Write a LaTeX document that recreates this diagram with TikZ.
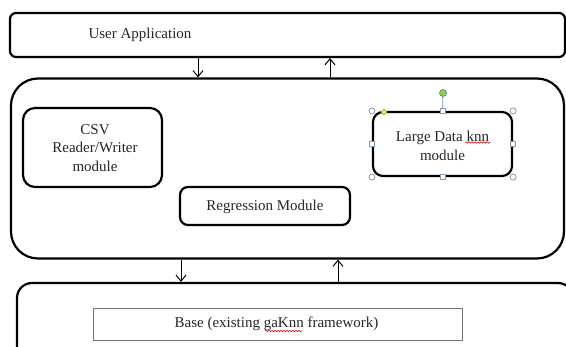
\documentclass[tikz,border=0pt]{standalone}
\usepackage{fontspec}
\setmainfont{Liberation Serif}
\usetikzlibrary{arrows.meta,decorations.pathmorphing,calc}
\definecolor{handle}{HTML}{7F9DBA}
\definecolor{grn}{HTML}{8CCB64}
\definecolor{ylw}{HTML}{F2E35A}
\tikzset{
  thickbox/.style={draw=black,line width=2.2pt,fill=none,inner sep=0pt},
  lbl/.style={font=\fontsize{15}{18.5}\selectfont,align=center,text=black!85},
  flow/.style={line width=1pt,-{Straight Barb[length=6pt,width=10pt,line width=1pt]}},
  hcirc/.style={draw=handle,fill=white,line width=0.8pt},
  squig/.style={draw=red!80!black,line width=0.6pt,decorate,decoration={snake,amplitude=0.7pt,segment length=3pt}}
}
\begin{document}
\begin{tikzpicture}[x=1pt,y=-1pt]
\useasboundingbox (0,0) rectangle (566,347);
\clip (0,0) rectangle (566,347);
% boxes
\node[thickbox,rounded corners=6pt,minimum width=555pt,minimum height=44pt] (ua) at (287.5,35) {};
\node[lbl] (uat) at (140,35) {User Application};
\node[thickbox,rounded corners=27pt,minimum width=553pt,minimum height=180pt] (mid) at (287.5,168.5) {};
\node[thickbox,rounded corners=12pt,minimum width=139pt,minimum height=79pt] (csv) at (92.5,147.5) {};
\node[lbl] (csvt) at (95,148) {CSV\\Reader/Writer\\module};
\node[thickbox,rounded corners=8pt,minimum width=170pt,minimum height=38pt] (reg) at (265,206) {};
\node[lbl] (regt) at (265,207) {Regression Module};
\node[thickbox,rounded corners=10pt,minimum width=139pt,minimum height=64pt] (knn) at (442.5,144) {};
\node[lbl] (knnt) at (442.5,146) {Large Data knn\\module};
\node[thickbox,rounded corners=15pt,minimum width=556pt,minimum height=80pt] (base) at (295,323) {};
\node[draw=black!55,line width=0.8pt,minimum width=369pt,minimum height=32pt,inner sep=0pt] (bin) at (277.5,324) {};
\node[lbl] (bint) at (276.5,323.5) {Base (existing gaKnn framework)};
% arrows
\draw[flow] (ua.south -| 198,0) -- (mid.north -| 198,0);
\draw[flow] (mid.north -| 330,0) -- (ua.south -| 330,0);
\draw[flow] (mid.south -| 181,0) -- (base.north -| 181,0);
\draw[flow] (base.north -| 338,0) -- (mid.south -| 338,0);
% selection handles
\coordinate (gh) at (443,93);
\draw[handle,line width=0.8pt] (gh) -- (knn.north);
\filldraw[draw=grn!70!black,fill=grn,line width=0.6pt] (gh) circle (3.5pt);
\foreach \a in {north west,north east,south west,south east}{
  \filldraw[hcirc] (knn.\a) circle (3pt);
}
\foreach \a in {north,south,west,east}{
  \filldraw[hcirc] ($(knn.\a)+(-2.5,-2.5)$) rectangle ++(5,5);
}
\filldraw[draw=ylw!70!black,fill=ylw,line width=0.5pt] (384,109) -- (387,112) -- (384,115) -- (381,112) -- cycle;
% spell-check squiggles
\draw[squig] (465,142.5) -- (490,142.5);
\draw[squig] (265,331) -- (302,331);
\end{tikzpicture}
\end{document}
